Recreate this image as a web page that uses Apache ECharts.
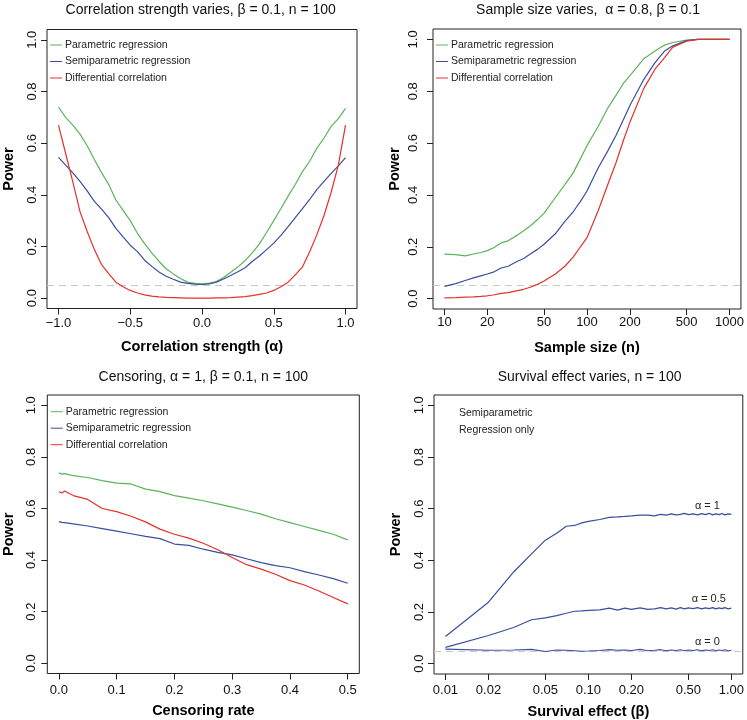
<!DOCTYPE html>
<html><head><meta charset="utf-8">
<script src="https://cdn.jsdelivr.net/npm/echarts@6/dist/echarts.min.js"></script>
<style>html,body{margin:0;padding:0;background:#fff}#c{width:747px;height:720px}</style>
</head><body><div id="c"></div>
<script>
// ---------- Panel 1: correlation strength ----------
const alphaX = [-1.0,-0.95,-0.9,-0.85,-0.8,-0.75,-0.7,-0.65,-0.6,-0.55,-0.5,-0.45,-0.4,-0.35,-0.3,-0.25,-0.2,-0.15,-0.1,-0.05,0,
  0.05,0.1,0.15,0.2,0.25,0.3,0.35,0.4,0.45,0.5,0.55,0.6,0.65,0.7,0.75,0.8,0.85,0.9,0.95,1.0];
const p1Param = [0.74,0.70,0.67,0.635,0.59,0.537,0.486,0.44,0.38,0.34,0.30,0.251,0.211,0.175,0.143,0.114,0.094,0.076,0.062,0.057,0.055,
  0.058,0.064,0.08,0.10,0.121,0.145,0.175,0.21,0.254,0.30,0.347,0.395,0.44,0.49,0.53,0.58,0.62,0.665,0.695,0.735];
const p1Semi = [0.545,0.515,0.485,0.452,0.415,0.375,0.345,0.312,0.27,0.237,0.205,0.18,0.147,0.123,0.101,0.085,0.073,0.062,0.057,0.054,0.053,
  0.055,0.062,0.074,0.088,0.102,0.118,0.142,0.163,0.188,0.213,0.243,0.277,0.312,0.347,0.382,0.42,0.452,0.483,0.512,0.544];
const p1Diff = [0.67,0.56,0.45,0.335,0.258,0.188,0.13,0.095,0.062,0.044,0.03,0.02,0.013,0.008,0.005,0.003,0.002,0.001,0.0,0.0,0.0,
  0.0,0.001,0.001,0.002,0.004,0.006,0.01,0.015,0.02,0.03,0.044,0.062,0.09,0.121,0.18,0.245,0.32,0.41,0.515,0.67];

// ---------- Panel 2: sample size ----------
const sizeN = [10,12,14,16,18,20,22,25,28,32,36,40,45,50,60,70,80,90,100,120,140,160,180,200,250,300,350,400,500,600,700,800,1000];
const p2Param = [0.172,0.17,0.165,0.172,0.178,0.185,0.195,0.215,0.223,0.243,0.262,0.28,0.305,0.33,0.39,0.44,0.485,0.54,0.59,0.665,0.735,0.785,0.83,0.86,0.925,0.955,0.978,0.988,0.997,1.0,1.0,1.0,1.0];
const p2Semi = [0.047,0.058,0.07,0.08,0.088,0.095,0.102,0.118,0.125,0.142,0.155,0.172,0.19,0.21,0.25,0.298,0.335,0.375,0.415,0.505,0.57,0.63,0.69,0.745,0.845,0.91,0.955,0.975,0.995,1.0,1.0,1.0,1.0];
const p2Diff = [0.003,0.004,0.006,0.007,0.009,0.011,0.014,0.02,0.023,0.03,0.036,0.044,0.055,0.068,0.095,0.125,0.16,0.2,0.235,0.34,0.44,0.525,0.61,0.68,0.81,0.885,0.93,0.97,0.993,1.0,1.0,1.0,1.0];

// ---------- Panel 3: censoring ----------
const censX = [0,0.005,0.01,0.025,0.05,0.075,0.1,0.125,0.15,0.175,0.2,0.225,0.25,0.275,0.3,0.325,0.35,0.375,0.4,0.425,0.45,0.475,0.5];
const p3Param = [0.738,0.733,0.735,0.727,0.72,0.708,0.698,0.695,0.675,0.665,0.65,0.64,0.63,0.618,0.605,0.592,0.578,0.56,0.545,0.53,0.515,0.5,0.478];
const p3Semi = [0.549,0.546,0.545,0.54,0.532,0.522,0.512,0.502,0.492,0.483,0.462,0.457,0.442,0.43,0.42,0.405,0.39,0.378,0.37,0.355,0.342,0.328,0.31];
const p3Diff = [0.665,0.66,0.668,0.65,0.635,0.6,0.588,0.57,0.548,0.52,0.5,0.485,0.465,0.44,0.41,0.382,0.365,0.345,0.32,0.303,0.28,0.255,0.23];

// ---------- Panel 4: survival effect ----------
const betaX = [0.01,0.02,0.03,0.04,0.05,0.06,0.07,0.08,0.09,0.10,0.12,0.14,0.16,0.18,0.20,0.23,0.26,0.29,0.32,0.35,0.38,0.41,0.44,0.47,0.50,0.54,0.58,0.62,0.66,0.70,0.74,0.78,0.82,0.86,0.90,0.95,1.00];
const p4A1 = [0.105,0.238,0.355,0.425,0.478,0.505,0.532,0.535,0.545,0.551,0.558,0.566,0.568,0.57,0.572,0.575,0.575,0.572,0.578,0.575,0.58,0.576,0.578,0.582,0.577,0.58,0.576,0.581,0.577,0.582,0.576,0.58,0.577,0.581,0.576,0.58,0.578];
const p4A05 = [0.063,0.109,0.14,0.17,0.177,0.186,0.195,0.203,0.204,0.206,0.208,0.215,0.207,0.215,0.21,0.216,0.21,0.212,0.217,0.212,0.216,0.211,0.217,0.212,0.216,0.213,0.217,0.212,0.216,0.213,0.217,0.212,0.216,0.213,0.217,0.212,0.215];
const p4A0 = [0.056,0.052,0.053,0.055,0.047,0.053,0.052,0.05,0.048,0.049,0.051,0.054,0.052,0.053,0.051,0.055,0.05,0.052,0.054,0.05,0.053,0.051,0.054,0.05,0.053,0.051,0.054,0.05,0.053,0.051,0.054,0.05,0.053,0.051,0.054,0.05,0.052];
const p4LabelText = ['α = 1','α = 0.5','α = 0'];
const p4LabelAt = [[0.68,0.611],[0.695,0.25],[0.68,0.085]];

// ---------- Ticks ----------
const powerTicks = [0,0.2,0.4,0.6,0.8,1.0];
const alphaTicks = [-1,-0.5,0,0.5,1];
const sizeTicks = [10,20,50,100,200,500,1000];
const censTicks = [0,0.1,0.2,0.3,0.4,0.5];
const betaTicks = [0.01,0.02,0.05,0.10,0.20,0.50,1.00];
const refLevel = 0.05;

const names = ['Parametric regression','Semiparametric regression','Differential correlation'];
const titles = ['Correlation strength varies, β = 0.1, n = 100','Sample size varies,  α = 0.8, β = 0.1','Censoring, α = 1, β = 0.1, n = 100','Survival effect varies, n = 100'];

const GREEN = '#5cb35a', BLUE = '#3a4e9c', RED = '#e5302c';
const FONT = 'Liberation Sans, Arial, Helvetica, sans-serif';

const grids = [
  {left:44.5, top:29.5, width:312.5, height:279},
  {left:433, top:29, width:310, height:280},
  {left:47.3, top:395, width:312, height:278.5},
  {left:434, top:395, width:311, height:279}
].map(g => Object.assign({show:true, borderColor:'#222', borderWidth:1, backgroundColor:'transparent', containLabel:false}, g));

const fmt1 = v => (v < 0 ? '\u2212' : '') + Math.abs(v).toFixed(1);
function xAxisDef(i, type, min, max, ticks, formatter, name, margin, gap){
  return {
    type, gridIndex:i, min, max, logBase:10, position:'bottom',
    axisLine:{show:false, onZero:false}, splitLine:{show:false},
    axisTick:{show:true, inside:false, length:6, customValues:ticks, lineStyle:{color:'#222', width:1}},
    axisLabel:{customValues:ticks, formatter, color:'#111', fontSize:13, fontFamily:FONT, margin},
    name, nameLocation:'middle', nameGap:gap,
    nameTextStyle:{fontWeight:'bold', fontSize:14.5, fontFamily:FONT, color:'#000'}
  };
}
function yAxisDef(i, margin){
  return {
    type:'value', gridIndex:i, min:-0.04, max:1.04, position:'left',
    axisLine:{show:false, onZero:false}, splitLine:{show:false},
    axisTick:{show:true, inside:false, length:6, customValues:powerTicks, lineStyle:{color:'#222', width:1}},
    axisLabel:{customValues:powerTicks, formatter:fmt1, rotate:90, color:'#111', fontSize:13, fontFamily:FONT, margin},
    name:'Power', nameLocation:'middle', nameGap:31, nameRotate:90,
    nameTextStyle:{fontWeight:'bold', fontSize:14.5, fontFamily:FONT, color:'#000'}
  };
}

const xAxes = [
  xAxisDef(0,'value',-1.08,1.08,alphaTicks,fmt1,'Correlation strength (α)',8,31),
  xAxisDef(1,'log',Math.pow(10,0.92),Math.pow(10,3.08),sizeTicks,v=>String(Math.round(v)),'Sample size (n)',7,31),
  xAxisDef(2,'value',-0.02,0.52,censTicks,fmt1,'Censoring rate',10,30),
  xAxisDef(3,'log',Math.pow(10,-2.08),Math.pow(10,0.08),betaTicks,v=>Number(v).toFixed(2),'Survival effect (β)',10,30)
];
const yAxes = [yAxisDef(0,8), yAxisDef(1,13), yAxisDef(2,9), yAxisDef(3,8)];

const pairs = (xs, ys) => xs.map((x,i)=>[x, ys[i]]);
const refLine = {silent:true, z:1, symbol:['none','none'], label:{show:false}, emphasis:{disabled:true},
  lineStyle:{color:'#c8c8c8', type:[7,5], width:1}, data:[{yAxis:refLevel}]};

function line(name, idx, xs, ys, color, extra){
  return Object.assign({type:'line', name, xAxisIndex:idx, yAxisIndex:idx, data:pairs(xs,ys), symbol:'none',
    showSymbol:false, lineStyle:{width:1.2, color}, itemStyle:{color}, animation:false, z:2}, extra||{});
}

const series = [
  line(names[0],0,alphaX,p1Param,GREEN,{markLine:refLine}),
  line(names[1],0,alphaX,p1Semi,BLUE),
  line(names[2],0,alphaX,p1Diff,RED),
  line(names[0],1,sizeN,p2Param,GREEN,{markLine:refLine}),
  line(names[1],1,sizeN,p2Semi,BLUE),
  line(names[2],1,sizeN,p2Diff,RED),
  line(names[0],2,censX,p3Param,GREEN),
  line(names[1],2,censX,p3Semi,BLUE),
  line(names[2],2,censX,p3Diff,RED),
  ...[p4A1,p4A05,p4A0].map((ys,k)=>line(p4LabelText[k],3,betaX,ys,BLUE,{
    markLine: k===2 ? refLine : undefined,
    markPoint:{silent:true, symbol:'rect', symbolSize:1, itemStyle:{color:'transparent'},
      label:{show:true, position:'inside', formatter:p4LabelText[k], color:'#222', fontSize:11, fontFamily:FONT},
      data:[{coord:p4LabelAt[k]}]}
  }))
];

function legendDef(left, top){
  return {data:names, orient:'vertical', left, top, padding:0, itemWidth:12, itemHeight:10, itemGap:4.5,
    selectedMode:false, icon:'path://M0,4.5L12,4.5L12,5.5L0,5.5Z',
    textStyle:{fontSize:10.5, fontFamily:FONT, color:'#222', lineHeight:12, padding:[0,0,0,-2]}};
}

const titleCenters = [[200.7,10],[588,10],[203.3,377.5],[589.6,377.5]];
const graphic = titles.map((t,i)=>({type:'text', x:titleCenters[i][0], y:titleCenters[i][1],
  style:{text:t, fill:'#111', font:'14px '+FONT, align:'center', verticalAlign:'middle', textAlign:'center', textVerticalAlign:'middle'}}));
graphic.push({type:'text', x:459, y:412.7, style:{text:'Semiparametric', fill:'#222', font:'10.5px '+FONT, verticalAlign:'middle', textVerticalAlign:'middle'}});
graphic.push({type:'text', x:459, y:430, style:{text:'Regression only', fill:'#222', font:'10.5px '+FONT, verticalAlign:'middle', textVerticalAlign:'middle'}});

const chart = echarts.init(document.getElementById('c'), null, {renderer:'canvas'});
chart.setOption({
  animation:false,
  backgroundColor:'#fff',
  textStyle:{fontFamily:FONT},
  grid:grids,
  xAxis:xAxes,
  yAxis:yAxes,
  legend:[legendDef(50,39), legendDef(436,39), legendDef(50.7,405.7)],
  series,
  graphic
});
</script></body></html>
